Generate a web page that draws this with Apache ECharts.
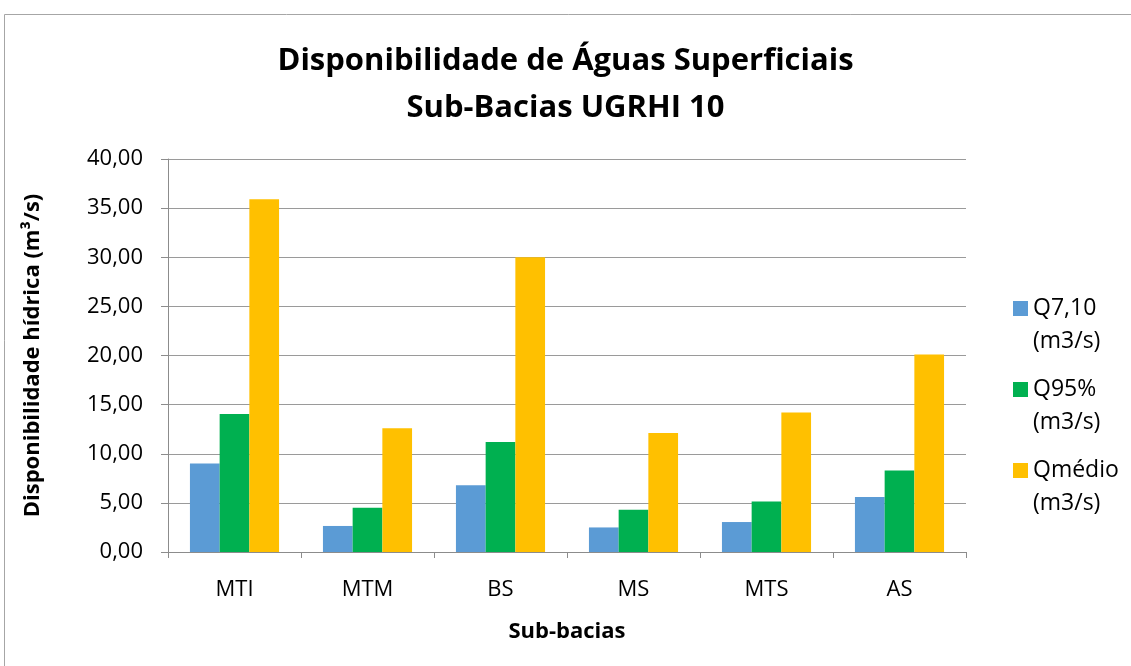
<!DOCTYPE html>
<html>
<head>
<meta charset="utf-8">
<script src="https://cdn.jsdelivr.net/npm/echarts@6/dist/echarts.min.js"></script>
<style>
  html, body { margin: 0; padding: 0; background: #fff; }
  #chart { width: 1131px; height: 666px; }
</style>
</head>
<body>
<div id="chart"></div>
<script>
// Sub-basins of UGRHI 10
const categories = ['MTI', 'MTM', 'BS', 'MS', 'MTS', 'AS'];

// Flow values in m3/s
const q710   = [9.0, 2.65, 6.8, 2.5, 3.05, 5.6];
const q95    = [14.05, 4.5, 11.2, 4.3, 5.15, 8.3];
const qmedio = [35.9, 12.6, 30.0, 12.1, 14.2, 20.1];

const seriesNames = ['Q7,10\n(m3/s)', 'Q95%\n(m3/s)', 'Qmédio\n(m3/s)'];
const yTicks = { min: 0, max: 40, interval: 5 };

const FONT = '"Open Sans", "Noto Sans", sans-serif';
const chart = echarts.init(document.getElementById('chart'), null, { renderer: 'canvas' });

const fmt = v => v.toFixed(2).replace('.', ',');

chart.setOption({
  animation: false,
  backgroundColor: '#ffffff',
  color: ['#5B9BD5', '#00B050', '#FFC000'],
  title: {
    text: 'Disponibilidade de Águas Superficiais\nSub-Bacias UGRHI 10',
    left: 'center',
    top: 33,
    textStyle: { fontFamily: FONT, fontWeight: 'bold', fontSize: 31, lineHeight: 47, color: '#000' }
  },
  legend: {
    orient: 'vertical',
    left: 1008,
    top: 254,
    itemWidth: 15,
    itemHeight: 15,
    itemGap: -18,
    icon: 'rect',
    // leading blank line keeps the swatch level with the first text line
    formatter: name => '\n' + name,
    textStyle: { fontFamily: FONT, fontSize: 23, lineHeight: 33, color: '#000' },
    data: seriesNames
  },
  grid: { left: 168, right: 165, top: 159, bottom: 114, containLabel: false },
  xAxis: {
    type: 'category',
    data: categories,
    name: 'Sub-bacias',
    nameLocation: 'middle',
    nameGap: 69,
    nameTextStyle: { fontFamily: FONT, fontWeight: 'bold', fontSize: 22, color: '#000' },
    axisLine: { lineStyle: { color: '#8c8c8c', width: 1 } },
    axisTick: { show: true, length: 6, alignWithLabel: false, lineStyle: { color: '#8c8c8c' } },
    axisLabel: { fontFamily: FONT, fontSize: 22, color: '#000', margin: 27 }
  },
  yAxis: {
    type: 'value',
    min: yTicks.min,
    max: yTicks.max,
    interval: yTicks.interval,
    name: 'Disponibilidade hídrica (m³/s)',
    nameLocation: 'middle',
    nameGap: 124,
    nameTextStyle: { fontFamily: FONT, fontWeight: 'bold', fontSize: 22, color: '#000' },
    axisLine: { show: true, lineStyle: { color: '#8c8c8c', width: 1 } },
    axisTick: { show: true, length: 7, lineStyle: { color: '#8c8c8c' } },
    axisLabel: { fontFamily: FONT, fontSize: 22, color: '#000', margin: 25, formatter: fmt },
    splitLine: { lineStyle: { color: '#9a9a9a', width: 1 } }
  },
  series: [
    { name: seriesNames[0], type: 'bar', data: q710, barGap: '0%', barCategoryGap: '33%' },
    { name: seriesNames[1], type: 'bar', data: q95, barGap: '0%', barCategoryGap: '33%' },
    { name: seriesNames[2], type: 'bar', data: qmedio, barGap: '0%', barCategoryGap: '33%' }
  ],
  graphic: [{
    type: 'rect',
    shape: { x: 4.5, y: 14.5, width: 1200, height: 700 },
    style: { fill: 'none', stroke: '#a6a6a6', lineWidth: 1 },
    silent: true
  }]
});
</script>
</body>
</html>
